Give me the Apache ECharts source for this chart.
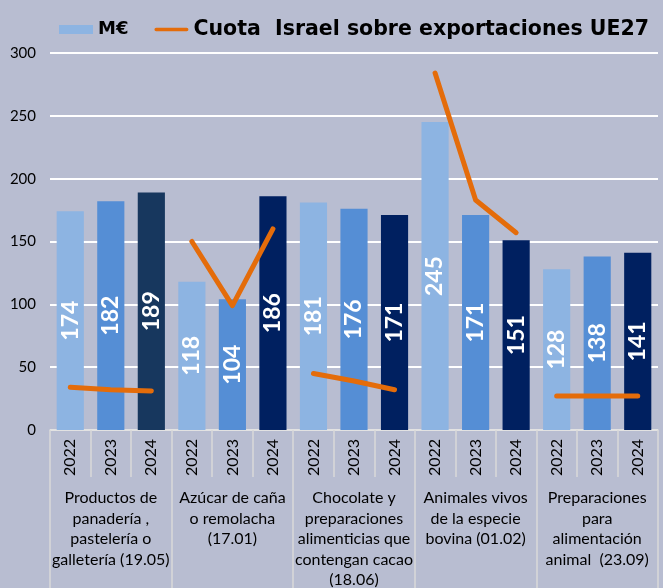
<!DOCTYPE html>
<html>
<head>
<meta charset="utf-8">
<script src="https://cdn.jsdelivr.net/npm/echarts@6/dist/echarts.min.js"></script>
<style>
  html, body { margin: 0; padding: 0; background: #B8BDD1; }
  #chart { width: 663px; height: 588px; }
</style>
</head>
<body>
<div id="chart"></div>
<script>
const years = ['2022', '2023', '2024'];
const groups = [
  'Productos de\npanadería ,\npastelería o\ngalletería (19.05)',
  'Azúcar de caña\no remolacha\n(17.01)',
  'Chocolate y\npreparaciones\nalimenticias que\ncontengan cacao\n(18.06)',
  'Animales vivos\nde la especie\nbovina (01.02)',
  'Preparaciones\npara\nalimentación\nanimal  (23.09)'
];
// M€ per group, 2022 / 2023 / 2024
const meur = [
  [174, 182, 189],
  [118, 104, 186],
  [181, 176, 171],
  [245, 171, 151],
  [128, 138, 141]
];
// cuota Israel sobre exportaciones UE27 (read on the same scale)
const cuota = [
  [34, 32, 31],
  [150, 99, 160],
  [45, 39, 32],
  [284, 183, 157],
  [27, 27, 27]
];
const yTicks = [0, 50, 100, 150, 200, 250, 300];

const yearColors = ['#8DB4E2', '#558ED5', '#002060'];
const firstDark = '#17375E';
const orange = '#E46C0A';
const font = 'Lato, "Open Sans", sans-serif';
const legendFont = '"DejaVu Sans", sans-serif';
const cuotaName = 'Cuota  Israel sobre exportaciones UE27';

const cats = [];
const barData = [];
groups.forEach((g, gi) => {
  years.forEach((y, yi) => {
    cats.push(y);
    let c = yearColors[yi];
    if (gi === 0 && yi === 2) c = firstDark;
    barData.push({ value: meur[gi][yi], itemStyle: { color: c } });
  });
});

// one line piece per product group, so the pieces stay apart
const lineSeries = cuota.map((vals, gi) => {
  const d = cats.map(() => null);
  vals.forEach((v, yi) => { d[gi * 3 + yi] = v; });
  return {
    name: cuotaName,
    type: 'line', data: d, symbol: 'none', connectNulls: false,
    lineStyle: { color: orange, width: 5, cap: 'round', join: 'round' },
    itemStyle: { color: orange }, z: 5
  };
});

const chart = echarts.init(document.getElementById('chart'), null, { renderer: 'canvas' });
chart.setOption({
  backgroundColor: '#B8BDD1',
  animation: false,
  textStyle: { fontFamily: font },
  legend: {
    left: 54, top: 14, itemGap: 26, itemWidth: 34, itemHeight: 9,
    textStyle: { color: '#000', fontSize: 18, fontWeight: 'bold', fontFamily: legendFont },
    data: [
      { name: 'M€', icon: 'rect', itemStyle: { color: yearColors[0] } },
      {
        name: cuotaName, icon: 'path://M2,0 H38 A2,2 0 0 1 38,4 H2 A2,2 0 0 1 2,0 Z',
        itemStyle: { color: orange },
        textStyle: { color: '#000', fontSize: 20.5, fontWeight: 'bold', fontFamily: legendFont }
      }
    ]
  },
  grid: { left: 50, right: 5, top: 53, bottom: 158, containLabel: false, outerBoundsMode: 'none' },
  xAxis: [
    {
      type: 'category', data: cats, position: 'bottom',
      axisLine: { lineStyle: { color: '#D9D9D9', width: 1.5 } },
      axisTick: { show: true, interval: 0, length: 47, lineStyle: { color: '#D9D9D9', width: 1.5 } },
      axisLabel: { interval: 0, rotate: 90, margin: 9, color: '#000', fontSize: 16, fontFamily: font }
    },
    {
      type: 'category', data: groups, position: 'bottom',
      axisLine: { show: false },
      axisTick: { show: true, interval: 0, length: 160, lineStyle: { color: '#D9D9D9', width: 1.5 } },
      axisLabel: { interval: 0, margin: 58, color: '#000', fontSize: 16, lineHeight: 20.5, fontFamily: font }
    }
  ],
  yAxis: {
    type: 'value', min: yTicks[0], max: yTicks[yTicks.length - 1], interval: 50,
    axisLine: { show: false }, axisTick: { show: false },
    axisLabel: { color: '#000', fontSize: 15, margin: 14, fontFamily: font },
    splitLine: { lineStyle: { color: '#FFFFFF', width: 2 } }
  },
  series: [
    {
      name: 'M€', type: 'bar', data: barData, barWidth: '67%',
      itemStyle: { color: yearColors[0] },
      label: {
        show: true, position: 'inside', rotate: 90, color: '#FFFFFF',
        fontSize: 23, fontWeight: 'bold', fontFamily: font
      }
    },
    ...lineSeries
  ]
});
</script>
</body>
</html>
